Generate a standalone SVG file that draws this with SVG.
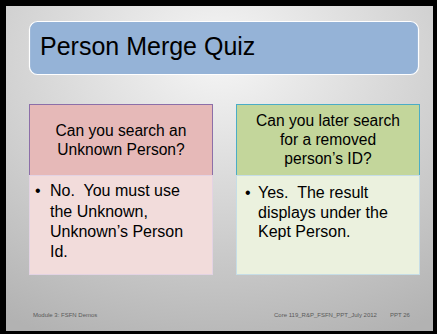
<svg xmlns="http://www.w3.org/2000/svg" width="437" height="334" viewBox="0 0 437 334">
<defs>
<radialGradient id="bg" cx="50%" cy="15%" r="95%" fx="50%" fy="15%">
<stop offset="0" stop-color="#f6f6f6"/>
<stop offset="0.5" stop-color="#d4d4d4"/>
<stop offset="1" stop-color="#b2b2b2"/>
</radialGradient>
<style>
text{font-family:"Liberation Sans",Arial,sans-serif;fill:#000}
.hd{font-size:15.6px;text-anchor:middle}
.bd{font-size:16px}
.ft{font-size:6px;fill:#595959}
</style>
</defs>
<rect x="0" y="0" width="437" height="334" fill="#000"/>
<rect x="6" y="6" width="427" height="325" fill="url(#bg)"/>
<g id="title">
<rect x="29.5" y="21.5" width="389" height="53" rx="8" fill="#95b3d7" stroke="#fff" stroke-width="1.2"/>
<text x="40" y="55" font-size="25">Person Merge Quiz</text>
</g>
<g id="left-question">
<rect x="29.5" y="104.5" width="183" height="71" fill="#e6b9b8" stroke="#8c6fa8" stroke-width="1"/>
<text class="hd" x="121" y="136">Can you search an</text>
<text class="hd" x="121" y="155">Unknown Person?</text>
</g>
<g id="left-answer">
<rect x="29.5" y="175.5" width="183" height="99" fill="#f2dcdb" stroke="#e3d3e3" stroke-width="1"/>
<text class="bd" x="35" y="196">•</text>
<text class="bd" x="50" y="196" xml:space="preserve">No.  You must use</text>
<text class="bd" x="50" y="217">the Unknown,</text>
<text class="bd" x="50" y="237">Unknown’s Person</text>
<text class="bd" x="50" y="257">Id.</text>
</g>
<g id="right-question">
<rect x="236.5" y="104.5" width="183" height="71" fill="#c3d69b" stroke="#4bacc6" stroke-width="1"/>
<text class="hd" x="328" y="126">Can you later search</text>
<text class="hd" x="328" y="145">for a removed</text>
<text class="hd" x="328" y="164">person’s ID?</text>
</g>
<g id="right-answer">
<rect x="236.5" y="175.5" width="183" height="99" fill="#ebf1de" stroke="#c6dde6" stroke-width="1"/>
<text class="bd" x="245" y="198">•</text>
<text class="bd" x="258" y="198" xml:space="preserve">Yes.  The result</text>
<text class="bd" x="258" y="218">displays under the</text>
<text class="bd" x="258" y="237">Kept Person.</text>
</g>
<g id="footer">
<text class="ft" x="33" y="317">Module 3: FSFN Demos</text>
<text class="ft" x="274" y="317">Core 119_R&amp;P_FSFN_PPT_July 2012</text>
<text class="ft" x="390" y="317">PPT 26</text>
</g>
</svg>
